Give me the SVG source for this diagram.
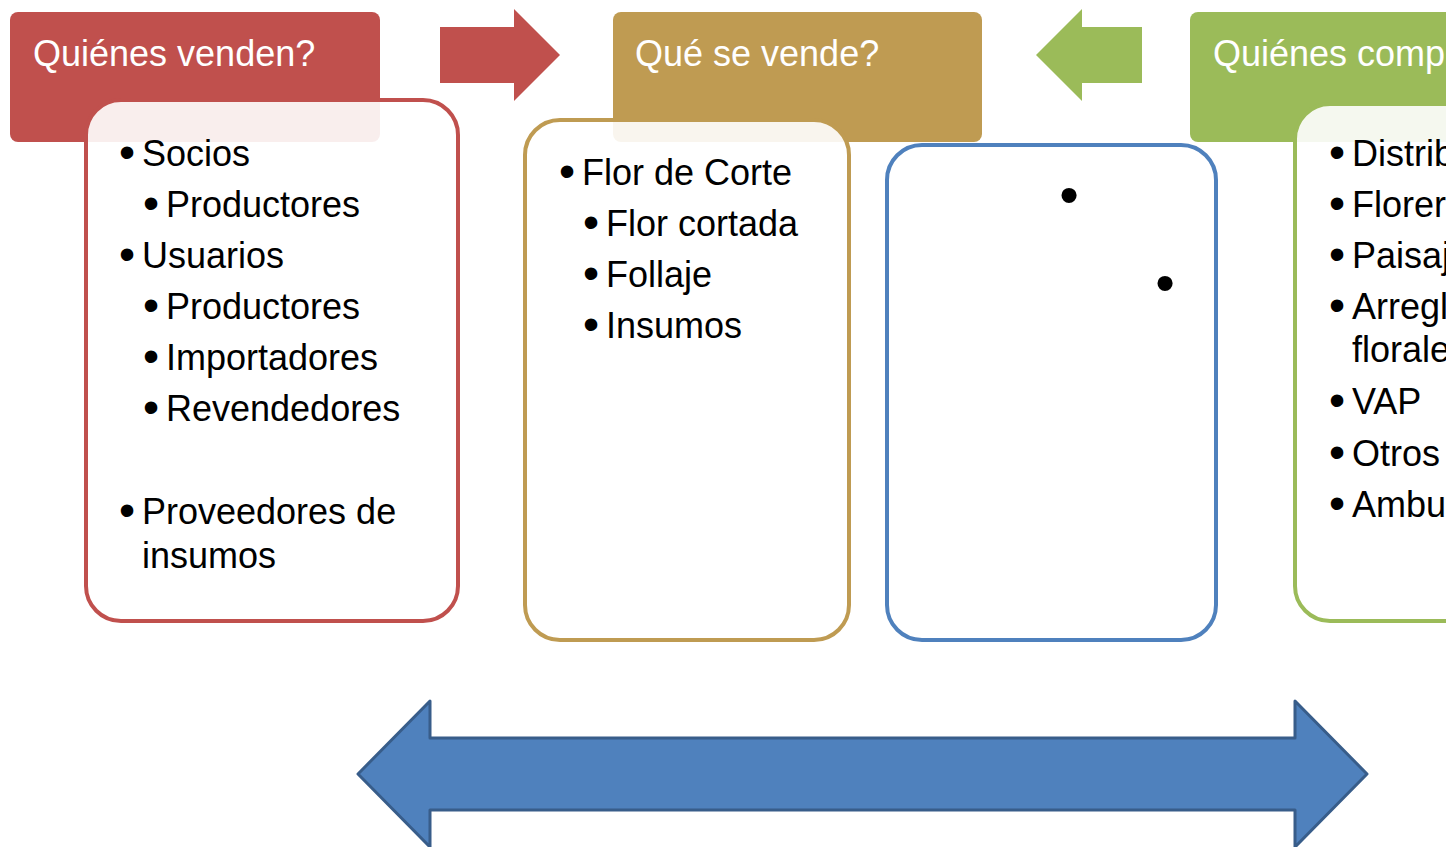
<svg xmlns="http://www.w3.org/2000/svg" width="1446" height="847" viewBox="0 0 1446 847">
<style>
.hdr{font-family:"Liberation Sans",Arial,sans-serif;font-size:36px;fill:#ffffff}
.t{font-family:"Liberation Sans",Arial,sans-serif;font-size:36px;fill:#000000}
.b{font-family:"Liberation Sans",Arial,sans-serif;font-size:46px;fill:#000000;text-anchor:middle}
.bb{font-family:"Liberation Sans",Arial,sans-serif;font-size:56px;fill:#000000;text-anchor:middle}
.box{stroke-width:4;fill:#ffffff;fill-opacity:0.9}
</style>
<rect width="1446" height="847" fill="#ffffff"/>
<g id="connectors">
<path id="arrow-red" d="M440,27 H514 V9 L560,55 L514,101 V83 H440 Z" fill="#C0504D"/>
<path id="arrow-green" d="M1142,27 H1082 V9 L1036,55 L1082,101 V83 H1142 Z" fill="#9BBB59"/>
<path id="arrow-double" d="M358,774 L430,701 V738 H1295 V701 L1367,774 L1295,847 V810 H430 V847 Z" fill="#4F81BD" stroke="#385D8A" stroke-width="3" stroke-linejoin="round"/>
</g>
<g id="header-venden">
<rect x="10" y="12" width="370" height="130" rx="8" fill="#C0504D"/>
<text class="hdr" x="33" y="66">Quiénes venden?</text>
</g>
<g id="header-vende">
<rect x="613" y="12" width="369" height="130" rx="8" fill="#BF9B52"/>
<text class="hdr" x="635" y="66">Qué se vende?</text>
</g>
<g id="header-compran">
<rect x="1190" y="12" width="300" height="130" rx="8" fill="#9BBB59"/>
<text class="hdr" x="1213" y="66">Quiénes compran?</text>
</g>
<g id="box-venden">
<rect class="box" x="86" y="100" width="372" height="521" rx="35" stroke="#C0504D"/>
<text class="b" x="127" y="168">•</text><text class="t" x="142" y="166">Socios</text>
<text class="b" x="151" y="219">•</text><text class="t" x="166" y="217">Productores</text>
<text class="b" x="127" y="270">•</text><text class="t" x="142" y="268">Usuarios</text>
<text class="b" x="151" y="321">•</text><text class="t" x="166" y="319">Productores</text>
<text class="b" x="151" y="372">•</text><text class="t" x="166" y="370">Importadores</text>
<text class="b" x="151" y="423">•</text><text class="t" x="166" y="421">Revendedores</text>
<text class="b" x="127" y="526">•</text><text class="t" x="142" y="524">Proveedores de</text>
<text class="t" x="142" y="568">insumos</text>
</g>
<g id="box-vende">
<rect class="box" x="525" y="120" width="324" height="520" rx="35" stroke="#BF9B52"/>
<text class="b" x="567" y="187">•</text><text class="t" x="582" y="185">Flor de Corte</text>
<text class="b" x="591" y="238">•</text><text class="t" x="606" y="236">Flor cortada</text>
<text class="b" x="591" y="289">•</text><text class="t" x="606" y="287">Follaje</text>
<text class="b" x="591" y="340">•</text><text class="t" x="606" y="338">Insumos</text>
</g>
<g id="box-blue">
<rect class="box" x="887" y="145" width="329" height="495" rx="35" stroke="#4F81BD" fill-opacity="1"/>
<text class="bb" x="1069" y="214">•</text>
<text class="bb" x="1165" y="302">•</text>
</g>
<g id="box-compran">
<rect class="box" x="1295" y="104" width="300" height="517" rx="35" stroke="#9BBB59"/>
<text class="b" x="1337" y="168">•</text><text class="t" x="1352" y="166">Distribuidores</text>
<text class="b" x="1337" y="219">•</text><text class="t" x="1352" y="217">Florerías</text>
<text class="b" x="1337" y="270">•</text><text class="t" x="1352" y="268">Paisajistas</text>
<text class="b" x="1337" y="321">•</text><text class="t" x="1352" y="319">Arreglos</text>
<text class="t" x="1352" y="362">florales</text>
<text class="b" x="1337" y="416">•</text><text class="t" x="1352" y="414">VAP</text>
<text class="b" x="1337" y="468">•</text><text class="t" x="1352" y="466">Otros</text>
<text class="b" x="1337" y="519">•</text><text class="t" x="1352" y="517">Ambulantes</text>
</g>
</svg>
